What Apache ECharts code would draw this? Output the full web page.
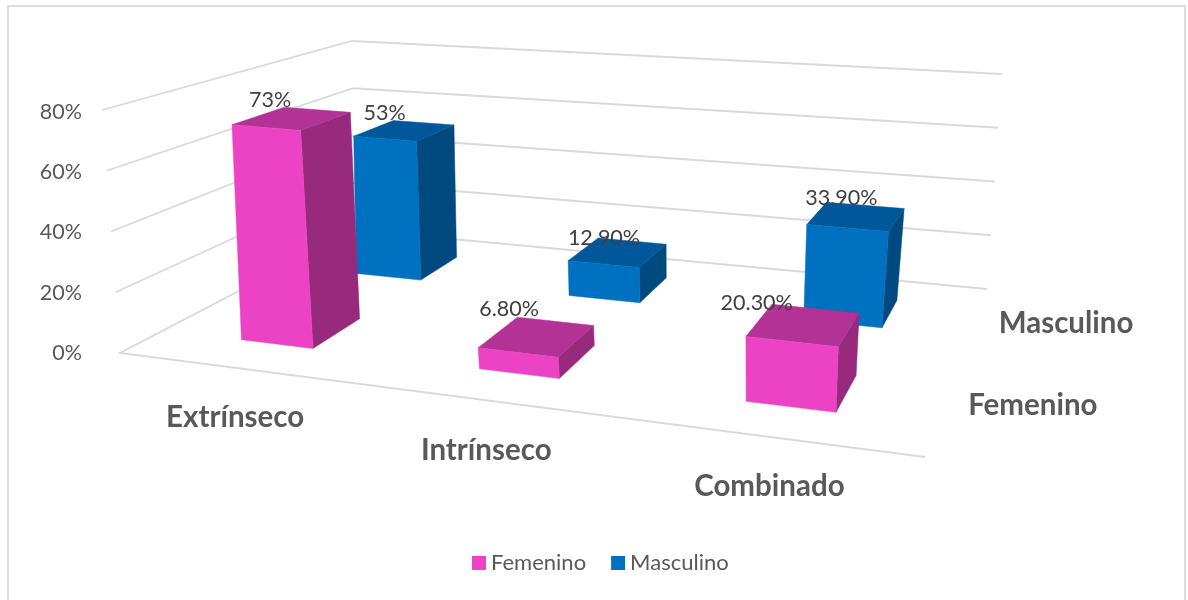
<!DOCTYPE html>
<html>
<head>
<meta charset="utf-8">
<style>html,body{margin:0;padding:0;background:#fff}#c{width:1188px;height:600px}</style>
<script src="https://cdn.jsdelivr.net/npm/echarts@6/dist/echarts.min.js"></script>
</head>
<body>
<div id="c"></div>
<script>
const categories = ['Extrínseco', 'Intrínseco', 'Combinado'];
const seriesNames = ['Femenino', 'Masculino'];
const femenino = [73, 6.8, 20.3];
const masculino = [53, 12.9, 33.9];
const femeninoLabels = ['73%', '6.80%', '20.30%'];
const masculinoLabels = ['53%', '12.90%', '33.90%'];
const ticks = [0, 20, 40, 60, 80];

// Scene layout (camera of the 3D view)
const floorPlane = [[120, 353], [925, 457], [987, 289], [356, 230]];
const barTopPlane = [[113, 111], [947, 184], [1015, 77], [357, 42]];
const wallTop = { left: [102, 110], back: [352, 41], right: [1002, 74] };
const halfW = 0.052, halfD = 0.1, uShift = 0.0025;
const femNudge = [[-22, -18], [-28, -27], [-47, -22]];
const mascNudge = [[-20, -17], [-14, -14], [-15, -18]];
const TXT = '#404040', GREY = '#595959', GRID = '#D9D9D9';

function homography(q) {
  const [[x0, y0], [x1, y1], [x2, y2], [x3, y3]] = q;
  const dx1 = x1 - x2, dx2 = x3 - x2, sx = x0 - x1 + x2 - x3;
  const dy1 = y1 - y2, dy2 = y3 - y2, sy = y0 - y1 + y2 - y3;
  const det = dx1 * dy2 - dx2 * dy1;
  const g = (sx * dy2 - dx2 * sy) / det, h = (dx1 * sy - sx * dy1) / det;
  const a = x1 - x0 + g * x1, b = x3 - x0 + h * x3, d = y1 - y0 + g * y1, e = y3 - y0 + h * y3;
  return (u, v) => {
    const w = g * u + h * v + 1;
    return [(a * u + b * v + x0) / w, (d * u + e * v + y0) / w];
  };
}
const floorH = homography(floorPlane), topH = homography(barTopPlane);
const lerp = (p, q, t) => [p[0] + (q[0] - p[0]) * t, p[1] + (q[1] - p[1]) * t];
const project = (u, v, t) => lerp(floorH(u, v), topH(u, v), t);

function heightFraction(api, val) {
  const y0 = api.coord([0, 0])[1], y1 = api.coord([0, ticks[ticks.length - 1]])[1];
  return (y0 - api.coord([0, val])[1]) / (y0 - y1);
}

function barSeries(name, values, labels, depthIndex, nudge, front, side, top) {
  return {
    name, type: 'custom', coordinateSystem: 'cartesian2d', clip: false,
    itemStyle: { color: front },
    encode: { x: 0, y: 1 },
    data: values.map((v, i) => [i, v]),
    renderItem(params, api) {
      const i = api.value(0), val = api.value(1);
      const t = heightFraction(api, val);
      const uc = (i + 0.5) / categories.length + uShift, vc = (depthIndex + 0.5) / seriesNames.length;
      const u0 = uc - halfW, u1 = uc + halfW, v0 = vc - halfD, v1 = vc + halfD;
      const poly = (pts, fill) => ({ type: 'polygon', shape: { points: pts }, style: { fill, stroke: fill, lineWidth: 0.5 } });
      const tc = project(uc, vc, t);
      return {
        type: 'group',
        children: [
          poly([project(u1, v0, 0), project(u1, v1, 0), project(u1, v1, t), project(u1, v0, t)], side),
          poly([project(u0, v0, t), project(u1, v0, t), project(u1, v1, t), project(u0, v1, t)], top),
          poly([project(u0, v0, 0), project(u1, v0, 0), project(u1, v0, t), project(u0, v0, t)], front),
          { type: 'text', z2: 50, style: { text: labels[i], x: tc[0] + nudge[i][0], y: tc[1] + nudge[i][1],
            align: 'center', verticalAlign: 'middle', fill: TXT, font: '21.5px Lato' } }
        ]
      };
    }
  };
}

const option = {
  animation: false,
  backgroundColor: '#fff',
  graphic: [{ type: 'rect', silent: true, shape: { x: 8, y: 6, width: 1177, height: 700 },
    style: { fill: 'none', stroke: '#DDDDDD', lineWidth: 2 } }],
  legend: {
    data: seriesNames, bottom: 21, left: 467, icon: 'rect', itemWidth: 14, itemHeight: 14, itemGap: 25,
    textStyle: { color: GREY, fontFamily: 'Lato', fontSize: 22 }
  },
  grid: { left: 90, top: 112, width: 900, height: 241 },
  xAxis: { type: 'category', data: categories, show: false },
  yAxis: {
    type: 'value', min: 0, max: 80, interval: 20,
    axisLine: { show: false }, axisTick: { show: false }, splitLine: { show: false },
    axisLabel: { formatter: '{value}%', color: GREY, fontFamily: 'Lato', fontSize: 21.5, margin: 8 }
  },
  series: [
    {
      type: 'custom', name: 'Rejilla', coordinateSystem: 'cartesian2d', clip: false, silent: true,
      encode: { y: 0 }, data: ticks.map(v => [v]),
      renderItem(params, api) {
        const t = heightFraction(api, api.value(0));
        const l = lerp(floorPlane[0], wallTop.left, t), b = lerp(floorPlane[3], wallTop.back, t), r = lerp(floorPlane[2], wallTop.right, t);
        const pts = t === 0 ? [floorPlane[1], l, b, r] : [l, b, r];
        return { type: 'polyline', shape: { points: pts }, style: { fill: 'none', stroke: GRID, lineWidth: 1.8 } };
      }
    },
    barSeries('Masculino', masculino, masculinoLabels, 1, mascNudge, '#0070C0', '#004A80', '#00589A'),
    barSeries('Femenino', femenino, femeninoLabels, 0, femNudge, '#EC43C4', '#972A7D', '#B23296'),
    {
      type: 'custom', name: 'Categorías', coordinateSystem: 'cartesian2d', clip: false, silent: true,
      encode: { x: 0 }, data: categories.map((c, i) => [i]),
      renderItem(params, api) {
        const i = api.value(0), p = floorH((i + 0.5) / categories.length, 0);
        return { type: 'text', style: { text: categories[i], x: p[0], y: p[1] + 50, align: 'center', verticalAlign: 'middle', fill: GREY, font: 'bold 29.5px Lato' } };
      }
    },
    {
      type: 'custom', name: 'Series', coordinateSystem: 'cartesian2d', clip: false, silent: true,
      encode: { x: 0 }, data: seriesNames.map((c, i) => [i]),
      renderItem(params, api) {
        const j = api.value(0), p = floorH(1, (j + 0.5) / seriesNames.length);
        return { type: 'text', style: { text: seriesNames[j], x: p[0] + 24, y: p[1] + 1, align: 'left', verticalAlign: 'middle', fill: GREY, font: 'bold 29.5px Lato' } };
      }
    }
  ]
};
const chart = echarts.init(document.getElementById('c'), null, { renderer: 'canvas' });
chart.setOption(option);
</script>
</body>
</html>
